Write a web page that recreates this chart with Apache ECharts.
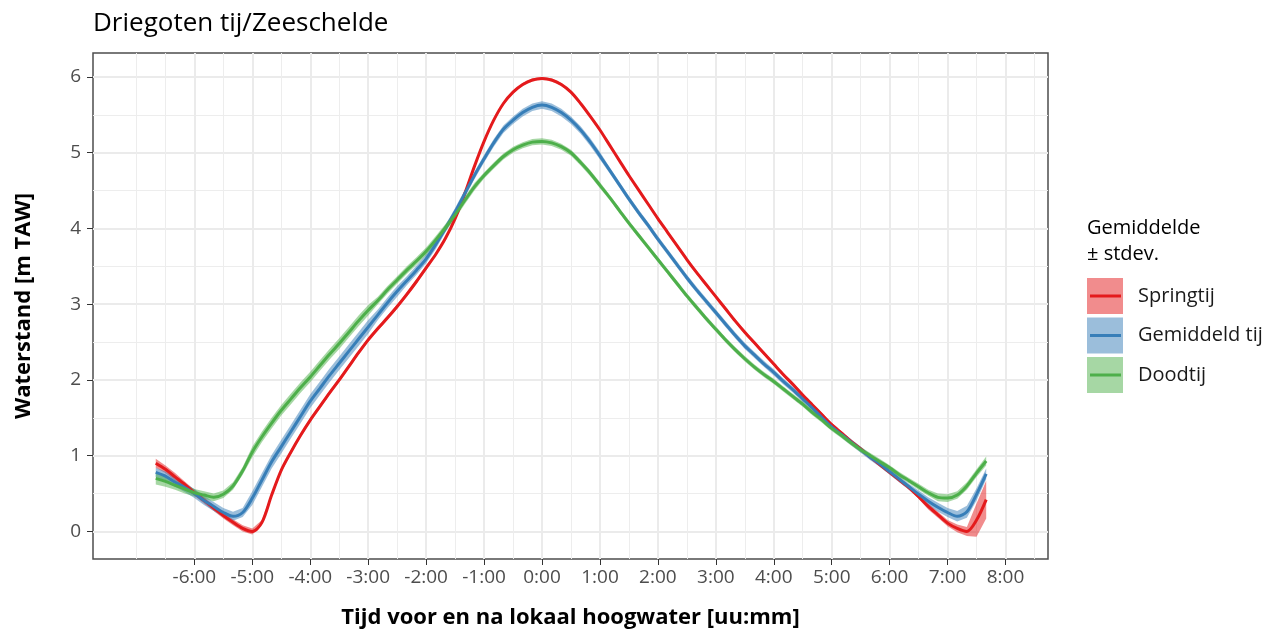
<!DOCTYPE html>
<html>
<head>
<meta charset="utf-8">
<title>Driegoten tij/Zeeschelde</title>
<script src="https://cdn.jsdelivr.net/npm/echarts@6/dist/echarts.min.js"></script>
<style>
  html, body { margin: 0; padding: 0; background: #fff; }
  #tij { width: 1265px; height: 635px; }
</style>
</head>
<body>
<div id="tij"></div>
<script>
var lettertype = 'Open Sans';

// tijd t.o.v. lokaal hoogwater, in minuten
var tijd = [
  -400, -390, -380, -370, -360, -350, -340, -330, -320, -310,
  -300, -290, -280, -270, -260, -250, -240, -230, -220, -210,
  -200, -190, -180, -170, -160, -150, -140, -130, -120, -110,
  -100, -90, -80, -70, -60, -50, -40, -30, -20, -10,
  0, 10, 20, 30, 40, 50, 60, 70, 80, 90,
  100, 110, 120, 130, 140, 150, 160, 170, 180, 190,
  200, 210, 220, 230, 240, 250, 260, 270, 280, 290,
  300, 310, 320, 330, 340, 350, 360, 370, 380, 390,
  400, 410, 420, 430, 440, 450, 460
];

// gemiddelde waterstand [m TAW]
var springtij = [
  0.90, 0.82, 0.72, 0.62, 0.51, 0.41, 0.31, 0.21, 0.12, 0.04,
  0.00, 0.12, 0.48, 0.81, 1.05, 1.27, 1.47, 1.65, 1.83, 2.00,
  2.18, 2.36, 2.53, 2.68, 2.82, 2.97, 3.13, 3.30, 3.48, 3.66,
  3.87, 4.13, 4.46, 4.82, 5.15, 5.43, 5.65, 5.80, 5.90, 5.96,
  5.98, 5.96, 5.90, 5.80, 5.65, 5.48, 5.30, 5.10, 4.90, 4.70,
  4.51, 4.32, 4.13, 3.95, 3.77, 3.59, 3.42, 3.26, 3.10, 2.94,
  2.78, 2.63, 2.49, 2.35, 2.21, 2.07, 1.94, 1.80, 1.67, 1.54,
  1.41, 1.30, 1.19, 1.09, 0.98, 0.88, 0.78, 0.68, 0.58, 0.46,
  0.33, 0.22, 0.11, 0.04, 0.00, 0.15, 0.42
];
var gemiddeldTij = [
  0.78, 0.73, 0.65, 0.58, 0.50, 0.41, 0.33, 0.25, 0.20, 0.25,
  0.44, 0.68, 0.92, 1.12, 1.32, 1.52, 1.72, 1.89, 2.06, 2.22,
  2.38, 2.54, 2.70, 2.86, 3.02, 3.17, 3.31, 3.45, 3.60, 3.79,
  4.00, 4.22, 4.46, 4.70, 4.92, 5.13, 5.31, 5.43, 5.53, 5.60,
  5.63, 5.60, 5.53, 5.43, 5.30, 5.14, 4.96, 4.77, 4.58, 4.39,
  4.21, 4.04, 3.86, 3.69, 3.52, 3.35, 3.19, 3.04, 2.89, 2.74,
  2.59, 2.45, 2.33, 2.21, 2.10, 1.98, 1.87, 1.75, 1.63, 1.50,
  1.38, 1.28, 1.18, 1.08, 0.98, 0.89, 0.79, 0.69, 0.59, 0.49,
  0.40, 0.32, 0.25, 0.20, 0.26, 0.49, 0.76
];
var doodtij = [
  0.70, 0.66, 0.61, 0.56, 0.51, 0.48, 0.45, 0.49, 0.60, 0.80,
  1.05, 1.25, 1.43, 1.60, 1.75, 1.90, 2.04, 2.19, 2.34, 2.48,
  2.63, 2.78, 2.92, 3.05, 3.19, 3.32, 3.45, 3.57, 3.70, 3.85,
  4.01, 4.18, 4.37, 4.55, 4.70, 4.83, 4.95, 5.04, 5.10, 5.14,
  5.15, 5.13, 5.08, 5.00, 4.87, 4.73, 4.57, 4.41, 4.24, 4.07,
  3.91, 3.75, 3.59, 3.43, 3.27, 3.11, 2.96, 2.81, 2.67, 2.53,
  2.40, 2.28, 2.17, 2.07, 1.98, 1.88, 1.78, 1.68, 1.57, 1.47,
  1.36, 1.27, 1.17, 1.08, 1.00, 0.92, 0.84, 0.75, 0.67, 0.59,
  0.51, 0.45, 0.44, 0.48, 0.60, 0.77, 0.93
];

// standaardafwijking [m]
var springtijSd = [
  0.06, 0.05, 0.05, 0.04, 0.04, 0.04, 0.04, 0.04, 0.04, 0.04,
  0.04, 0.03, 0.03, 0.03, 0.03, 0.03, 0.03, 0.03, 0.03, 0.03,
  0.03, 0.03, 0.03, 0.03, 0.03, 0.03, 0.03, 0.03, 0.03, 0.02,
  0.02, 0.02, 0.02, 0.02, 0.02, 0.02, 0.02, 0.02, 0.02, 0.02,
  0.02, 0.02, 0.02, 0.02, 0.02, 0.02, 0.02, 0.02, 0.02, 0.02,
  0.02, 0.02, 0.025, 0.025, 0.025, 0.025, 0.025, 0.025, 0.025, 0.025,
  0.025, 0.025, 0.025, 0.025, 0.025, 0.025, 0.025, 0.025, 0.025, 0.025,
  0.025, 0.025, 0.025, 0.025, 0.025, 0.025, 0.025, 0.03, 0.03, 0.03,
  0.04, 0.04, 0.04, 0.05, 0.06, 0.22, 0.25
];
var gemiddeldTijSd = [
  0.06, 0.06, 0.06, 0.06, 0.06, 0.06, 0.06, 0.06, 0.06, 0.06,
  0.09, 0.09, 0.09, 0.09, 0.09, 0.09, 0.09, 0.09, 0.09, 0.09,
  0.09, 0.09, 0.09, 0.07, 0.07, 0.07, 0.06, 0.06, 0.06, 0.06,
  0.05, 0.05, 0.05, 0.05, 0.05, 0.05, 0.05, 0.05, 0.05, 0.05,
  0.05, 0.05, 0.05, 0.05, 0.05, 0.05, 0.05, 0.04, 0.04, 0.04,
  0.04, 0.04, 0.04, 0.04, 0.04, 0.04, 0.04, 0.04, 0.04, 0.04,
  0.04, 0.04, 0.04, 0.04, 0.04, 0.04, 0.04, 0.04, 0.04, 0.04,
  0.04, 0.04, 0.04, 0.04, 0.04, 0.04, 0.04, 0.04, 0.04, 0.05,
  0.05, 0.06, 0.06, 0.07, 0.08, 0.08, 0.07
];
var doodtijSd = [
  0.08, 0.07, 0.06, 0.06, 0.05, 0.05, 0.05, 0.05, 0.05, 0.05,
  0.07, 0.07, 0.07, 0.07, 0.07, 0.07, 0.07, 0.07, 0.07, 0.07,
  0.07, 0.07, 0.07, 0.05, 0.05, 0.05, 0.05, 0.05, 0.05, 0.05,
  0.05, 0.05, 0.05, 0.05, 0.04, 0.04, 0.04, 0.04, 0.04, 0.04,
  0.04, 0.04, 0.04, 0.04, 0.04, 0.04, 0.04, 0.035, 0.035, 0.035,
  0.035, 0.035, 0.035, 0.035, 0.035, 0.035, 0.035, 0.035, 0.035, 0.035,
  0.035, 0.035, 0.035, 0.035, 0.035, 0.035, 0.035, 0.035, 0.035, 0.035,
  0.035, 0.035, 0.035, 0.035, 0.035, 0.035, 0.035, 0.035, 0.035, 0.04,
  0.04, 0.05, 0.05, 0.05, 0.05, 0.05, 0.06
];

var tijNamen = ['Springtij', 'Gemiddeld tij', 'Doodtij'];
var tijKleuren = ['#E41A1C', '#377EB8', '#4DAF4A'];
var lintKleuren = ['rgba(228,26,28,0.5)', 'rgba(55,126,184,0.5)', 'rgba(77,175,74,0.5)'];

// asverdeling (minuten / m TAW)
var xTicks = [-360, -300, -240, -180, -120, -60, 0, 60, 120, 180, 240, 300, 360, 420, 480];
var xMinor = [-420, -390, -330, -270, -210, -150, -90, -30, 30, 90, 150, 210, 270, 330, 390, 450, 510];
var yTicks = [0, 1, 2, 3, 4, 5, 6];
var yMinor = [0.5, 1.5, 2.5, 3.5, 4.5, 5.5];

var gemiddelden = [springtij, gemiddeldTij, doodtij];
var stdevs = [springtijSd, gemiddeldTijSd, doodtijSd];

function uurMinuut(v) {
  var teken = v < 0 ? '-' : '';
  var a = Math.abs(v);
  var m = a % 60;
  return teken + Math.floor(a / 60) + ':' + (m < 10 ? '0' : '') + m;
}

// lint gemiddelde +/- stdev als een polygoon
function lintSerie(k) {
  var gem = gemiddelden[k], sd = stdevs[k];
  return {
    name: tijNamen[k],
    type: 'custom',
    silent: true,
    z: 1,
    itemStyle: { color: lintKleuren[k] },
    data: tijd.map(function (t, i) { return [t, gem[i] - sd[i], gem[i] + sd[i]]; }),
    encode: { x: 0, y: [1, 2] },
    renderItem: function (params, api) {
      if (params.dataIndex !== 0) return null;
      var boven = [], onder = [];
      for (var i = 0; i < tijd.length; i++) {
        boven.push(api.coord([tijd[i], gem[i] + sd[i]]));
        onder.unshift(api.coord([tijd[i], gem[i] - sd[i]]));
      }
      return {
        type: 'polygon',
        shape: { points: boven.concat(onder) },
        style: { fill: lintKleuren[k] }
      };
    }
  };
}

function lijnSerie(k) {
  var gem = gemiddelden[k];
  return {
    name: tijNamen[k],
    type: 'line',
    z: 3,
    silent: true,
    symbol: 'none',
    showSymbol: false,
    smooth: 0.3,
    data: tijd.map(function (t, i) { return [t, gem[i]]; }),
    lineStyle: { color: tijKleuren[k], width: 3 },
    itemStyle: { color: tijKleuren[k] }
  };
}

var tekstAs = { fontFamily: lettertype, fontSize: 22, fontWeight: 'bold', color: '#000' };
var tekstTick = { fontFamily: lettertype, fontSize: 19, color: '#4d4d4d' };
var tickLijn = { color: '#333', width: 1 };
var hoofdRaster = { color: '#EBEBEB', width: 2 };
var hulpRaster = { color: '#EDEDED', width: 1 };

var myChart = echarts.init(document.getElementById('tij'), null, { renderer: 'canvas' });

var option = {
  animation: false,
  backgroundColor: '#fff',
  title: [
    {
      text: 'Driegoten tij/Zeeschelde',
      left: 93, top: 11, padding: 0,
      textStyle: { fontFamily: lettertype, fontSize: 26, fontWeight: 'normal', color: '#000' }
    },
    {
      text: 'Gemiddelde\n± stdev.',
      left: 1087, top: 215, padding: 0,
      textStyle: { fontFamily: lettertype, fontSize: 20, fontWeight: 'normal', color: '#000', lineHeight: 26 }
    }
  ],
  legend: [
    {
      orient: 'vertical', left: 1087, top: 278, padding: 0,
      itemWidth: 36, itemHeight: 36, itemGap: 3.5,
      icon: 'rect', selectedMode: false,
      data: tijNamen.map(function (n, k) { return { name: n, itemStyle: { color: lintKleuren[k], borderWidth: 0 } }; }),
      textStyle: { fontFamily: lettertype, fontSize: 20, color: '#1a1a1a', padding: [0, 0, 0, 10] }
    },
    {
      // lijnstuk over de sleutel
      orient: 'vertical', left: 1090, top: 278, padding: 0,
      itemWidth: 31, itemHeight: 36, itemGap: 3.5, selectedMode: false,
      icon: 'path://M0,0L0,0M0,16.5L31,16.5L31,19.5L0,19.5ZM31,36L31,36',
      data: tijNamen.map(function (n, k) { return { name: n, itemStyle: { color: tijKleuren[k], borderWidth: 0 } }; }),
      formatter: function () { return ''; }
    }
  ],
  grid: {
    left: 93, right: 217, top: 53, bottom: 76,
    show: true, borderColor: '#4d4d4d', borderWidth: 1.5, backgroundColor: '#fff'
  },
  xAxis: [
    {
      type: 'value', min: -465, max: 524,
      name: 'Tijd voor en na lokaal hoogwater [uu:mm]',
      nameLocation: 'middle', nameGap: 48, nameTextStyle: tekstAs,
      axisLine: { show: false, onZero: false },
      axisTick: { show: true, length: 6, customValues: xTicks, lineStyle: tickLijn },
      axisLabel: { customValues: xTicks, formatter: uurMinuut, margin: 9, fontFamily: tekstTick.fontFamily, fontSize: tekstTick.fontSize, color: tekstTick.color },
      splitLine: { show: true, lineStyle: hoofdRaster }
    },
    {
      type: 'value', min: -465, max: 524, position: 'bottom',
      axisLine: { show: false, onZero: false },
      axisTick: { show: false, customValues: xMinor },
      axisLabel: { show: false, customValues: xMinor },
      splitLine: { show: true, lineStyle: hulpRaster }
    }
  ],
  yAxis: [
    {
      type: 'value', min: -0.364, max: 6.317,
      name: 'Waterstand [m TAW]',
      nameLocation: 'middle', nameGap: 58, nameRotate: 90, nameTextStyle: tekstAs,
      axisLine: { show: false, onZero: false },
      axisTick: { show: true, length: 6, customValues: yTicks, lineStyle: tickLijn },
      axisLabel: { customValues: yTicks, margin: 12, fontFamily: tekstTick.fontFamily, fontSize: tekstTick.fontSize, color: tekstTick.color },
      splitLine: { show: true, lineStyle: hoofdRaster }
    },
    {
      type: 'value', min: -0.364, max: 6.317, position: 'right',
      axisLine: { show: false, onZero: false },
      axisTick: { show: false, customValues: yMinor },
      axisLabel: { show: false, customValues: yMinor },
      splitLine: { show: true, lineStyle: hulpRaster }
    }
  ],
  series: [lintSerie(0), lintSerie(1), lintSerie(2), lijnSerie(0), lijnSerie(1), lijnSerie(2)]
};

myChart.setOption(option);
</script>
</body>
</html>
